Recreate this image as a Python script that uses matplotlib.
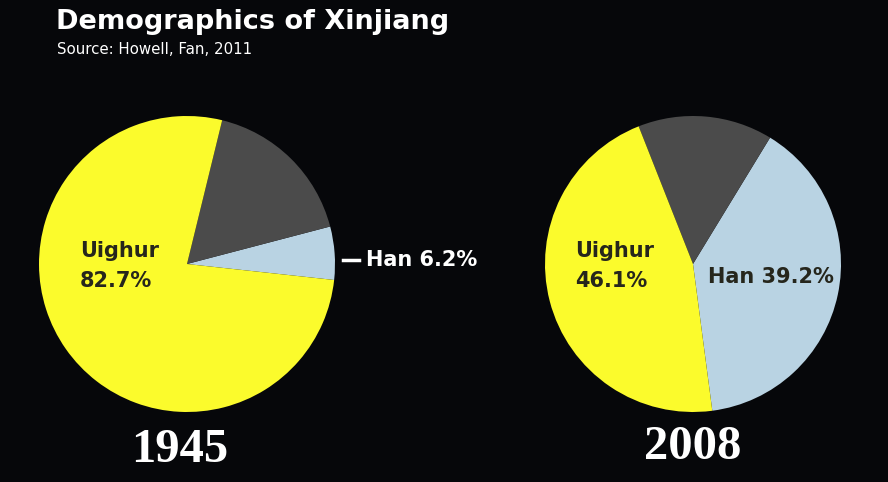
import matplotlib.pyplot as plt

# wedge shares as drawn in the picture (left pie is not drawn to its labels)
groups = ["Han", "Other", "Uighur"]
shares_1945 = [5.8, 17.1, 77.1]
shares_2008 = [39.2, 14.7, 46.1]
years = ["1945", "2008"]
uighur_labels = ["82.7%", "46.1%"]
han_labels = ["6.2%", "39.2%"]

W, H = 888, 482
bg = "#06070a"
colors = ["#b9d3e3", "#4b4b4b", "#fbfb2c"]
dark = "#26261c"

def fx(px):
    return px / W

def fy(py):
    return 1 - py / H

fig = plt.figure(figsize=(W / 100, H / 100), dpi=100, facecolor=bg)

sans = ["DejaVu Sans"]
serif = ["Liberation Serif", "DejaVu Serif"]

#---- pies ----#
def draw_pie(cx, cy, r, shares, start):
    ax = fig.add_axes([fx(cx - r), fy(cy + r), 2 * r / W, 2 * r / H])
    ax.pie(shares, colors=colors, startangle=start, counterclock=True,
           wedgeprops=dict(linewidth=0))
    ax.set_xlim(-1, 1)
    ax.set_ylim(-1, 1)
    ax.set_aspect("auto")
    ax.axis("off")
    return ax

draw_pie(187, 264, 148, shares_1945, -6.2)
draw_pie(693, 264, 148, shares_2008, -82.5)

#---- titles ----#
fig.text(fx(56), fy(22), "Demographics of Xinjiang", color="white",
         fontsize=19.5, fontweight="bold", family=sans, va="center")
fig.text(fx(57), fy(49), "Source: Howell, Fan, 2011", color="white",
         fontsize=10.8, family=sans, va="center")

#---- labels in pies ----#
fig.text(fx(80), fy(266), "Uighur\n" + uighur_labels[0], color=dark,
         fontsize=15, fontweight="bold", family=sans, va="center",
         linespacing=1.6)
fig.text(fx(575), fy(266), "Uighur\n" + uighur_labels[1], color=dark,
         fontsize=15, fontweight="bold", family=sans, va="center",
         linespacing=1.6)
fig.text(fx(708), fy(277), "Han " + han_labels[1], color=dark,
         fontsize=15, fontweight="bold", family=sans, va="center")
fig.text(fx(366), fy(260), "Han " + han_labels[0], color="white",
         fontsize=15, fontweight="bold", family=sans, va="center")
fig.add_artist(plt.Line2D([fx(343), fx(359)], [fy(260), fy(260)],
                          color="white", linewidth=2.5))

#---- years ----#
fig.text(fx(180), fy(450), years[0], color="white", fontsize=35,
         fontweight="bold", family=serif, ha="center", va="center")
fig.text(fx(693), fy(447), years[1], color="white", fontsize=35,
         fontweight="bold", family=serif, ha="center", va="center")

fig.savefig("out.png", dpi=100, facecolor=bg)
